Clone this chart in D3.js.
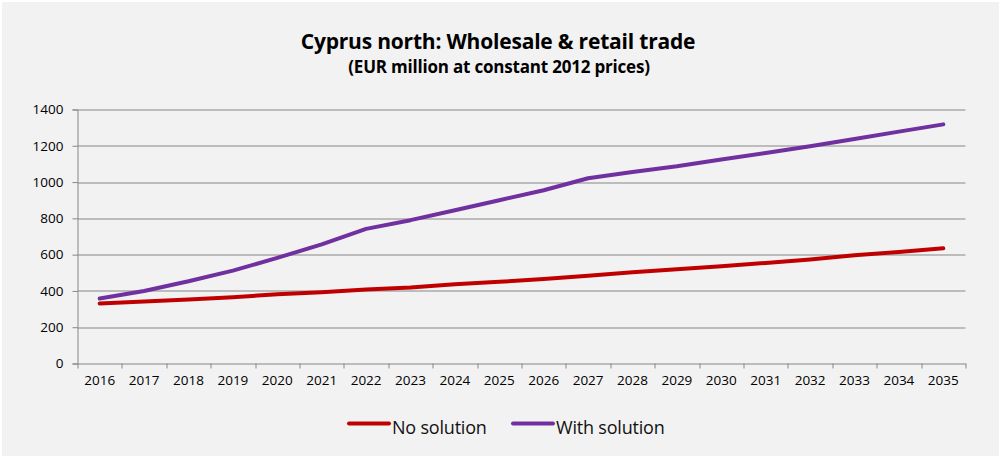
<!DOCTYPE html>
<html>
<head>
<meta charset="utf-8">
<script src="https://cdn.jsdelivr.net/npm/d3@7"></script>
<style>
  body { margin: 0; background: #fff; }
  .tick text { font-family: "Open Sans", "DejaVu Sans", sans-serif; font-size: 13.5px; fill: #000; }
</style>
</head>
<body>
<script>
// Define constants
const width = 1000
const height = 458
const margin = {top: 109.5, right: 34.5, bottom: 94.5, left: 77.5}
const innerwidth = width - margin.left - margin.right
const innerheight = height - margin.top - margin.bottom

// Data
const years = ["2016","2017","2018","2019","2020","2021","2022","2023","2024","2025",
               "2026","2027","2028","2029","2030","2031","2032","2033","2034","2035"]
const noSolution = [331, 342, 353, 365, 382, 393, 408, 419, 437, 450,
                    466, 483, 503, 520, 536, 554, 573, 597, 615, 635]
const withSolution = [358, 400, 453, 512, 582, 657, 742, 790, 845, 900,
                      955, 1021, 1056, 1087, 1124, 1160, 1197, 1237, 1278, 1318]
const yTicks = [0, 200, 400, 600, 800, 1000, 1200, 1400]
const seriesNames = ["No solution", "With solution"]
const colors = ["#C00000", "#7030A0"]

const svg = d3.select("body").append("svg")
    .attr("width", width)
    .attr("height", height)

// panel background
svg.append("rect")
    .attr("x", 2).attr("y", 2)
    .attr("width", width - 3).attr("height", height - 4)
    .attr("fill", "#F2F2F2")

// titles
svg.append("text")
    .attr("x", 498).attr("y", 49)
    .attr("text-anchor", "middle")
    .style("font-family", "'Open Sans', sans-serif")
    .style("font-weight", "bold")
    .style("font-size", "21px")
    .style("letter-spacing", "-0.2px")
    .text("Cyprus north: Wholesale & retail trade")

svg.append("text")
    .attr("x", 499).attr("y", 73)
    .attr("text-anchor", "middle")
    .style("font-family", "'Open Sans', sans-serif")
    .style("font-weight", "bold")
    .style("font-size", "17px")
    .style("letter-spacing", "-0.2px")
    .text("(EUR million at constant 2012 prices)")

const g = svg.append("g")
    .attr("transform", `translate(${margin.left},${margin.top})`)

const xScale = d3.scaleBand()
    .domain(years)
    .range([0, innerwidth])

const yScale = d3.scaleLinear()
    .domain([0, 1400])
    .range([innerheight, 0])

// gridlines
g.selectAll(".grid").data(yTicks.slice(1))
  .enter().append("line")
    .attr("class", "grid")
    .attr("x1", 0).attr("x2", innerwidth)
    .attr("y1", d => Math.round(yScale(d)) + 0.5)
    .attr("y2", d => Math.round(yScale(d)) + 0.5)
    .attr("stroke", "#868686")
    .attr("stroke-width", 1)

// y axis
const yAxisG = g.append("g")
    .call(d3.axisLeft(yScale).tickValues(yTicks).tickFormat(d3.format("d")).tickSize(5).tickPadding(9))
yAxisG.selectAll(".domain, .tick line").attr("stroke", "#868686")

// x axis
const xAxisG = g.append("g")
    .attr("transform", `translate(0,${innerheight})`)
    .call(d3.axisBottom(xScale).tickSize(0).tickPadding(12))
xAxisG.select(".domain").attr("stroke", "#868686")
xAxisG.selectAll(".tick line").remove()

// category boundary ticks
g.selectAll(".xtick").data(years.concat(["end"]))
  .enter().append("line")
    .attr("class", "xtick")
    .attr("x1", (d, i) => Math.round(i * xScale.bandwidth()) + 0.5)
    .attr("x2", (d, i) => Math.round(i * xScale.bandwidth()) + 0.5)
    .attr("y1", innerheight)
    .attr("y2", innerheight + 5)
    .attr("stroke", "#868686")

// lines
const line = d3.line()
    .x((d, i) => xScale(years[i]) + xScale.bandwidth() / 2)
    .y(d => yScale(d))

;[noSolution, withSolution].forEach((s, k) => {
    g.append("path")
        .datum(s)
        .attr("d", line)
        .attr("fill", "none")
        .attr("stroke", colors[k])
        .attr("stroke-width", 4)
        .attr("stroke-linejoin", "round")
        .attr("stroke-linecap", "round")
})

// legend
const legendX = [349, 513]
seriesNames.forEach((name, k) => {
    svg.append("line")
        .attr("x1", legendX[k]).attr("x2", legendX[k] + 40)
        .attr("y1", 423.5).attr("y2", 423.5)
        .attr("stroke", colors[k])
        .attr("stroke-width", 4)
        .attr("stroke-linecap", "round")
    svg.append("text")
        .attr("x", legendX[k] + 43).attr("y", 434)
        .style("font-family", "'Open Sans', sans-serif")
        .style("font-size", "18px")
        .style("letter-spacing", "-0.2px")
        .attr("fill", "#111")
        .text(name)
})
</script>
</body>
</html>
